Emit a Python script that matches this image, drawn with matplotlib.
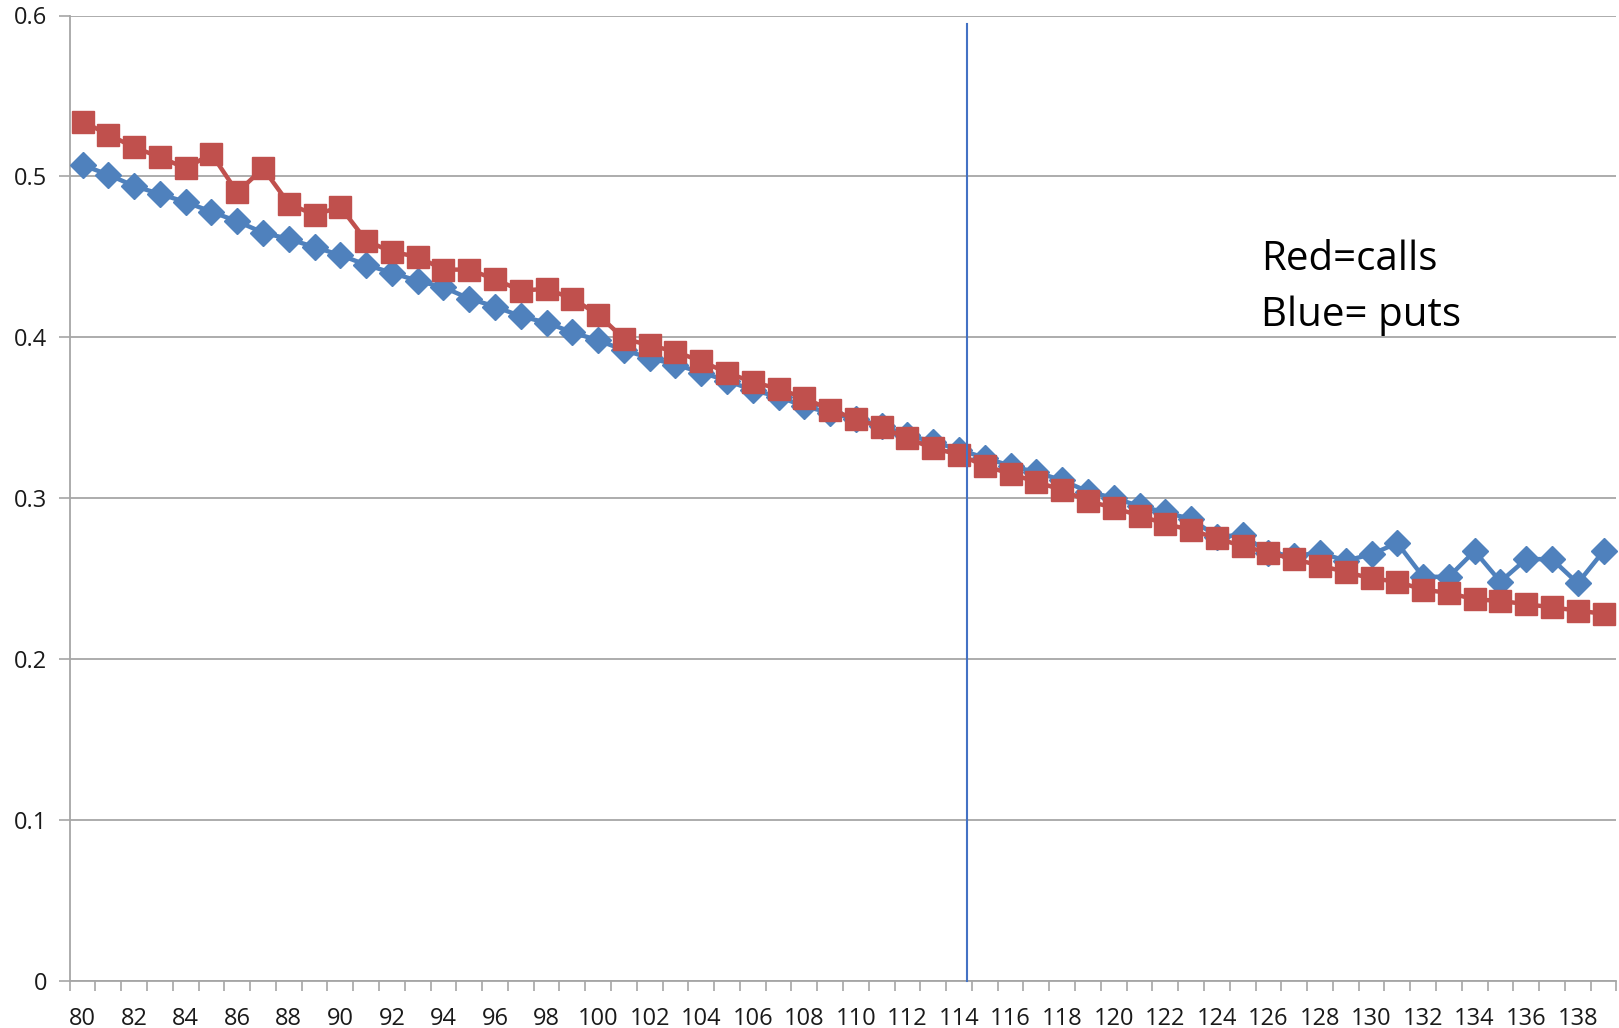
import matplotlib
matplotlib.use("Agg")
import matplotlib.pyplot as plt
from matplotlib.ticker import FixedLocator, FuncFormatter

strikes = list(range(80, 140))
calls = [0.534, 0.526, 0.518, 0.512, 0.505, 0.514, 0.490, 0.505, 0.483, 0.476,
         0.481, 0.460, 0.453, 0.450, 0.442, 0.442, 0.436, 0.429, 0.430, 0.424,
         0.414, 0.399, 0.395, 0.391, 0.385, 0.378, 0.372, 0.368, 0.362, 0.355,
         0.349, 0.344, 0.337, 0.331, 0.327, 0.320, 0.315, 0.310, 0.305, 0.298,
         0.294, 0.289, 0.284, 0.280, 0.275, 0.270, 0.266, 0.262, 0.258, 0.254,
         0.250, 0.248, 0.243, 0.241, 0.237, 0.236, 0.234, 0.232, 0.230, 0.228]
puts = [0.507, 0.501, 0.494, 0.489, 0.484, 0.478, 0.472, 0.465, 0.461, 0.456,
        0.451, 0.445, 0.440, 0.435, 0.431, 0.424, 0.419, 0.413, 0.409, 0.403,
        0.398, 0.392, 0.387, 0.383, 0.378, 0.373, 0.367, 0.363, 0.357, 0.353,
        0.349, 0.345, 0.339, 0.335, 0.330, 0.325, 0.320, 0.316, 0.311, 0.304,
        0.300, 0.295, 0.291, 0.287, 0.276, 0.277, 0.266, 0.264, 0.266, 0.261,
        0.265, 0.272, 0.251, 0.251, 0.267, 0.248, 0.262, 0.262, 0.247, 0.267]
y_ticks = [0, 0.1, 0.2, 0.3, 0.4, 0.5, 0.6]
x_label_ticks = list(range(80, 140, 2))
marker_strike = 114.3
annotation_lines = ["Red=calls", "Blue= puts"]

plt.rcParams['font.family'] = ['Open Sans', 'DejaVu Sans']

W, H = 1619, 1028
fig = plt.figure(figsize=(W / 100, H / 100), dpi=100)
ax = fig.add_axes([69.7 / W, 1 - 980.5 / H, (1616.4 - 69.7) / W, (980.5 - 15.5) / H])

grid_c = '#A6A6A6'
ax.set_xlim(79.5, 139.5)
ax.set_ylim(0, 0.6)
ax.yaxis.set_major_locator(FixedLocator(y_ticks))
ax.yaxis.set_major_formatter(FuncFormatter(lambda v, p: '0' if v == 0 else f'{v:g}'))
ax.grid(axis='y', color=grid_c, linewidth=1.3, zorder=0)
ax.set_axisbelow(True)

ax.xaxis.set_major_locator(FixedLocator(x_label_ticks))
ax.xaxis.set_minor_locator(FixedLocator([s - 0.5 for s in strikes] + [strikes[-1] + 0.5]))
ax.tick_params(axis='x', which='major', length=0, pad=19, labelsize=17, colors='#1a1a1a')
ax.tick_params(axis='x', which='minor', length=7, width=1.2, color=grid_c, direction='out')
ax.tick_params(axis='y', which='major', length=8, width=1.2, color=grid_c, pad=8,
               labelsize=17, labelcolor='#1a1a1a')

for s in ['top', 'right']:
    ax.spines[s].set_visible(False)
for s in ['left', 'bottom']:
    ax.spines[s].set_color(grid_c)
    ax.spines[s].set_linewidth(1.3)

ax.plot(strikes, puts, color='#4F81BD', lw=3.2, marker='D', ms=13,
        mec='#4F81BD', mfc='#4F81BD', zorder=3, clip_on=False)
ax.plot(strikes, calls, color='#C0504D', lw=3.2, marker='s', ms=15.5,
        mec='#C0504D', mfc='#C0504D', zorder=4, clip_on=False)

ax.plot([marker_strike, marker_strike], [0, 0.595], color='#4472C4', lw=1.5, zorder=5,
        clip_on=False)

fig.text(1261 / W, 1 - 270 / H, annotation_lines[0], fontsize=29, va='baseline', ha='left',
         color='black')
fig.text(1261 / W, 1 - 326 / H, annotation_lines[1], fontsize=29, va='baseline', ha='left',
         color='black')

fig.savefig('out.png', dpi=100)
